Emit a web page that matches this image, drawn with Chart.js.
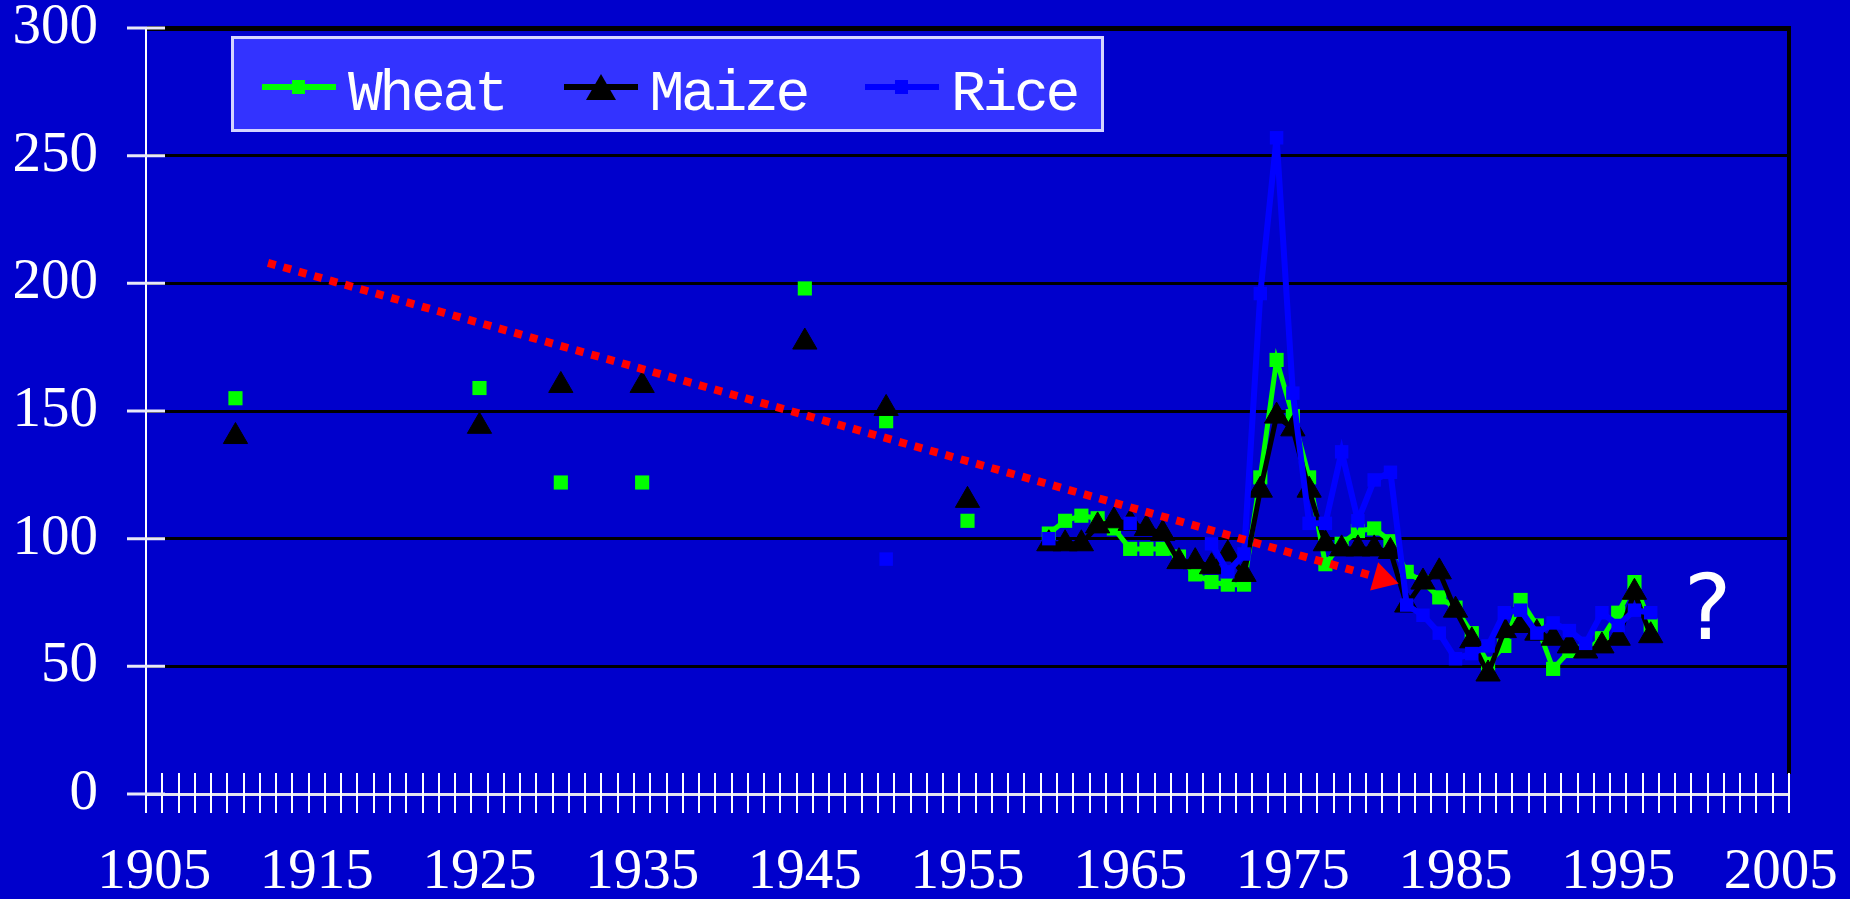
<!DOCTYPE html>
<html>
<head>
<meta charset="utf-8">
<title>Wheat, Maize, Rice</title>
<script src="https://cdn.jsdelivr.net/npm/chart.js@4.4.0/dist/chart.umd.min.js"></script>
<style>
  html, body { margin: 0; padding: 0; background: #0000cc; }
  .wrap { position: relative; width: 1850px; height: 899px; }
  #legend {
    position: absolute; left: 231px; top: 36px; width: 873px; height: 96px;
    box-sizing: border-box; background: #3333ff; border: 3px solid #d4d4ff;
  }
  .item { position: absolute; top: 0; height: 90px; width: 290px; }
  .item canvas { position: absolute; left: 0; top: 33px; }
  .item span {
    position: absolute; left: 86px; top: 27px;
    font: 58px/58px "Liberation Mono", "DejaVu Sans Mono", monospace; color: #fff;
    letter-spacing: -3.3px;
  }
</style>
</head>
<body>
<div class="wrap">
  <canvas id="chart" width="1850" height="899"></canvas>
  <div id="legend"></div>
</div>
<script>
// ---- data ----
const years = [1910, 1925, 1930, 1935, 1945, 1950, 1955,
  1960, 1961, 1962, 1963, 1964, 1965, 1966, 1967, 1968, 1969,
  1970, 1971, 1972, 1973, 1974, 1975, 1976, 1977, 1978, 1979,
  1980, 1981, 1982, 1983, 1984, 1985, 1986, 1987, 1988, 1989,
  1990, 1991, 1992, 1993, 1994, 1995, 1996, 1997];

const wheat = [155, 159, 122, 122, 198, 146, 107,
  102, 107, 109, 108, 104, 96, 96, 96, 93, 86,
  83, 82, 82, 124, 170, 148, 124, 90, 98, 103,
  104, 99, 87, 83, 77, 73, 63, 51, 58, 76,
  66, 49, 56, 56, 61, 71, 83, 66];

const maize = [140, 144, 160, 160, 177, 151, 115,
  98, 98, 98, 105, 107, 106, 104, 102, 91, 91,
  89, 94, 86, 119, 148, 143, 119, 98, 96, 96,
  96, 95, 74, 83, 87, 72, 60, 47, 64, 66,
  63, 61, 58, 56, 58, 61, 79, 62];

const rice = [null, null, null, null, null, 92, null,
  100, null, null, null, null, 106, null, null, null, null,
  98, 87, 94, 196, 257, 157, 106, 106, 134, 107,
  123, 126, 74, 70, 63, 53, 55, 58, 71, 72,
  63, 67, 64, 59, 71, 66, 72, 71];

// red dotted trend arrow (year, value)
const trendYears = [1912, 1980.5];
const trendValues = [208, 84.3];

const yTicks = [0, 50, 100, 150, 200, 250, 300];
const xLabels = [1905, 1915, 1925, 1935, 1945, 1955, 1965, 1975, 1985, 1995, 2005];

// the "?" note next to the last years
const noteYear = 2000.5;
const noteValue = 70;

const tickFont = { family: '"Liberation Serif", "DejaVu Serif", serif', size: 57, lineHeight: 1 };

function points(values) {
    return years.map((yr, i) => ({ x: yr, y: values[i] }));
}

// no line between isolated early observations
const gapSegment = {
    borderColor: ctx => (ctx.p1.parsed.x - ctx.p0.parsed.x > 1 ? 'rgba(0,0,0,0)' : undefined)
};

// keep the plot area where the picture has it
function noPadding(s) {
    s.paddingTop = 0; s.paddingBottom = 0; s.paddingLeft = 0; s.paddingRight = 0;
}

const axisMarks = {
    id: 'axisMarks',
    afterDraw(chart) {
        const { ctx, chartArea: a, scales: { x, y } } = chart;
        ctx.save();
        // right frame
        ctx.strokeStyle = '#000000';
        ctx.lineWidth = 4;
        ctx.beginPath();
        ctx.moveTo(a.right, a.top - 2);
        ctx.lineTo(a.right, a.bottom - 20);
        ctx.stroke();
        // year ticks crossing the x axis
        ctx.strokeStyle = '#ffffff';
        ctx.lineWidth = 2;
        ctx.beginPath();
        for (let v = x.min; v <= x.max + 0.001; v += 1) {
            const px = Math.round(x.getPixelForValue(v));
            ctx.moveTo(px, a.bottom - 21);
            ctx.lineTo(px, a.bottom + 19);
        }
        ctx.stroke();
        // value ticks crossing the y axis
        ctx.lineWidth = 3;
        ctx.strokeStyle = '#e8e8f8';
        ctx.beginPath();
        y.ticks.forEach(t => {
            const py = y.getPixelForValue(t.value);
            ctx.moveTo(a.left - 19, py);
            ctx.lineTo(a.left + 19, py);
        });
        ctx.stroke();
        // question mark
        ctx.fillStyle = '#ffffff';
        ctx.font = '90px "DejaVu Sans", sans-serif';
        ctx.textAlign = 'center';
        ctx.textBaseline = 'middle';
        ctx.fillText('?', x.getPixelForValue(noteYear), y.getPixelForValue(noteValue));
        ctx.restore();
    }
};

const trendAngle = 105.8;

const chart = new Chart(document.getElementById('chart'), {
    type: 'line',
    data: {
        datasets: [
            {
                label: 'Wheat', data: points(wheat), order: 3,
                borderColor: '#00ff00', backgroundColor: '#00ff00', borderWidth: 5,
                pointStyle: 'rect', pointRadius: 10, pointBorderWidth: 0, spanGaps: false,
                segment: gapSegment, marker: 'rect'
            },
            {
                label: 'Maize', data: points(maize), order: 2,
                borderColor: '#000000', backgroundColor: '#000000', borderWidth: 5,
                pointStyle: 'triangle', pointRadius: 14, pointBorderWidth: 1, spanGaps: false,
                segment: gapSegment, marker: 'triangle'
            },
            {
                label: 'Rice', data: points(rice), order: 1,
                borderColor: '#0000ff', backgroundColor: '#0000ff', borderWidth: 6,
                pointStyle: 'rect', pointRadius: 9.5, pointBorderWidth: 0, spanGaps: false,
                segment: gapSegment, marker: 'rect'
            },
            {
                label: 'trend', data: trendYears.map((yr, i) => ({ x: yr, y: trendValues[i] })), order: 0,
                borderColor: '#ff0000', backgroundColor: '#ff0000', borderWidth: 8,
                borderDash: [8, 8], borderCapStyle: 'butt',
                pointStyle: 'triangle', pointRadius: [0, 17], pointBorderWidth: 0,
                pointRotation: trendAngle
            }
        ]
    },
    options: {
        responsive: false,
        animation: false,
        layout: { padding: { top: 28, right: 61, bottom: 0, left: 0 } },
        plugins: { legend: { display: false }, tooltip: { enabled: false } },
        scales: {
            x: {
                type: 'linear', min: 1904.5, max: 2005.5,
                afterFit: s => { s.height = 105; noPadding(s); },
                afterBuildTicks: s => { s.ticks = xLabels.map(v => ({ value: v })); },
                grid: { display: true, drawOnChartArea: false, drawTicks: false, color: 'rgba(0,0,0,0)' },
                border: { display: true, color: '#e4e4ee', width: 3 },
                ticks: { color: '#ffffff', font: tickFont, padding: 51, autoSkip: false, maxRotation: 0,
                    callback: v => String(v) }
            },
            y: {
                min: 0, max: 300,
                afterFit: s => { s.width = 146; noPadding(s); },
                afterBuildTicks: s => { s.ticks = yTicks.map(v => ({ value: v })); },
                grid: {
                    drawTicks: false,
                    color: c => (c.tick && c.tick.value === 0 ? 'rgba(0,0,0,0)' : '#000000'),
                    lineWidth: c => (c.tick && c.tick.value === 300 ? 5 : 3)
                },
                border: { display: true, color: '#ffffff', width: 2 },
                ticks: { color: '#ffffff', font: tickFont, padding: 48 }
            }
        }
    },
    plugins: [axisMarks]
});

// ---- legend box built from the three series ----
const legendBox = document.getElementById('legend');
chart.data.datasets.slice(0, 3).forEach((ds, i) => {
    const item = document.createElement('div');
    item.className = 'item';
    item.style.left = (28 + i * 301.5) + 'px';
    const c = document.createElement('canvas');
    c.width = 76; c.height = 30;
    const g = c.getContext('2d');
    g.strokeStyle = ds.borderColor;
    g.fillStyle = ds.borderColor;
    g.lineWidth = 6;
    g.beginPath(); g.moveTo(0, 15); g.lineTo(74, 15); g.stroke();
    if (ds.marker === 'triangle') {
        g.beginPath(); g.moveTo(37, 2); g.lineTo(52, 28); g.lineTo(22, 28); g.closePath(); g.fill();
    } else {
        g.fillRect(30, 8, 13, 14);
    }
    const label = document.createElement('span');
    label.textContent = ds.label;
    item.appendChild(c);
    item.appendChild(label);
    legendBox.appendChild(item);
});
</script>
</body>
</html>
